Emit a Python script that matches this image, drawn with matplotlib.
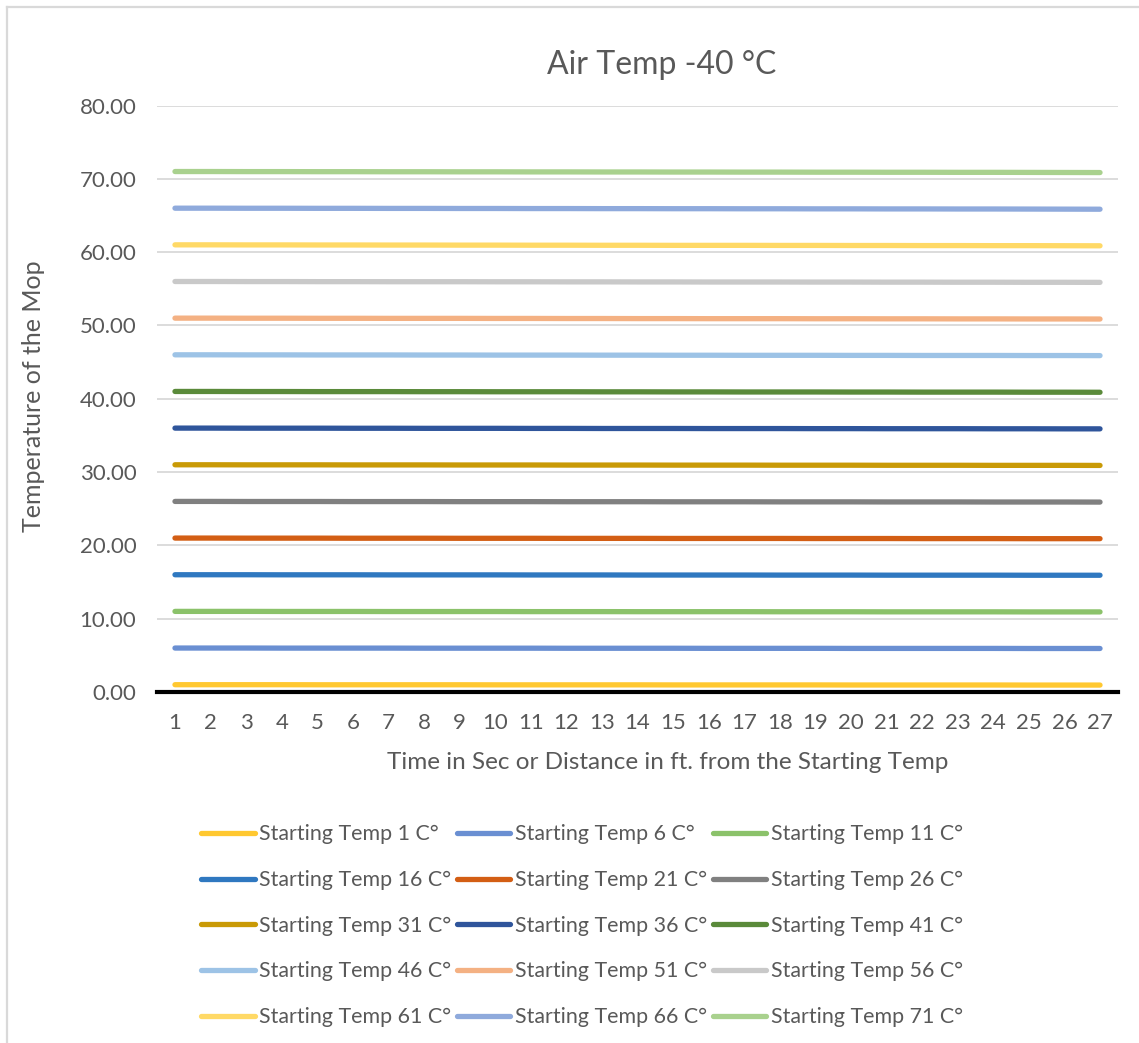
import matplotlib
matplotlib.use('Agg')
from matplotlib import pyplot as plt
from matplotlib.lines import Line2D
from matplotlib.ticker import FormatStrFormatter

plt.rcParams['font.family'] = ['Lato', 'DejaVu Sans']

# seconds / feet from the starting point
steps = list(range(1, 28))

t1 = [1.00, 1.00, 1.00, 1.00, 0.99, 0.99, 0.99, 0.99, 0.99, 0.98, 0.98, 0.98, 0.98, 0.98,
      0.97, 0.97, 0.97, 0.97, 0.97, 0.96, 0.96, 0.96, 0.96, 0.96, 0.95, 0.95, 0.95]
t6 = [6.00, 6.00, 6.00, 5.99, 5.99, 5.99, 5.99, 5.98, 5.98, 5.98, 5.98, 5.97, 5.97, 5.97,
      5.97, 5.96, 5.96, 5.96, 5.96, 5.95, 5.95, 5.95, 5.95, 5.95, 5.94, 5.94, 5.94]
t11 = [11.00, 11.00, 11.00, 10.99, 10.99, 10.99, 10.98, 10.98, 10.98, 10.98, 10.97, 10.97, 10.97, 10.96,
       10.96, 10.96, 10.96, 10.95, 10.95, 10.95, 10.94, 10.94, 10.94, 10.94, 10.93, 10.93, 10.93]
t16 = [16.00, 16.00, 16.00, 15.99, 15.99, 15.99, 15.98, 15.98, 15.98, 15.98, 15.97, 15.97, 15.97, 15.96,
       15.96, 15.96, 15.96, 15.95, 15.95, 15.95, 15.94, 15.94, 15.94, 15.94, 15.93, 15.93, 15.93]
t21 = [21.00, 21.00, 20.99, 20.99, 20.99, 20.98, 20.98, 20.98, 20.97, 20.97, 20.97, 20.96, 20.96, 20.96,
       20.95, 20.95, 20.95, 20.95, 20.94, 20.94, 20.94, 20.93, 20.93, 20.93, 20.92, 20.92, 20.92]
t26 = [26.00, 26.00, 25.99, 25.99, 25.99, 25.98, 25.98, 25.98, 25.97, 25.97, 25.97, 25.96, 25.96, 25.96,
       25.95, 25.95, 25.95, 25.94, 25.94, 25.94, 25.93, 25.93, 25.93, 25.92, 25.92, 25.92, 25.91]
t31 = [31.00, 31.00, 30.99, 30.99, 30.99, 30.98, 30.98, 30.98, 30.97, 30.97, 30.97, 30.96, 30.96, 30.96,
       30.95, 30.95, 30.95, 30.94, 30.94, 30.94, 30.93, 30.93, 30.93, 30.92, 30.92, 30.92, 30.91]
t36 = [36.00, 36.00, 35.99, 35.99, 35.99, 35.98, 35.98, 35.97, 35.97, 35.97, 35.96, 35.96, 35.95, 35.95,
       35.95, 35.94, 35.94, 35.94, 35.93, 35.93, 35.92, 35.92, 35.92, 35.91, 35.91, 35.90, 35.90]
t41 = [41.00, 41.00, 40.99, 40.99, 40.98, 40.98, 40.98, 40.97, 40.97, 40.96, 40.96, 40.96, 40.95, 40.95,
       40.94, 40.94, 40.93, 40.93, 40.93, 40.92, 40.92, 40.91, 40.91, 40.91, 40.90, 40.90, 40.89]
t46 = [46.00, 46.00, 45.99, 45.99, 45.98, 45.98, 45.98, 45.97, 45.97, 45.96, 45.96, 45.96, 45.95, 45.95,
       45.94, 45.94, 45.93, 45.93, 45.93, 45.92, 45.92, 45.91, 45.91, 45.91, 45.90, 45.90, 45.89]
t51 = [51.00, 51.00, 50.99, 50.99, 50.98, 50.98, 50.97, 50.97, 50.97, 50.96, 50.96, 50.95, 50.95, 50.94,
       50.94, 50.93, 50.93, 50.93, 50.92, 50.92, 50.91, 50.91, 50.90, 50.90, 50.89, 50.89, 50.88]
t56 = [56.00, 56.00, 55.99, 55.99, 55.98, 55.98, 55.97, 55.97, 55.97, 55.96, 55.96, 55.95, 55.95, 55.94,
       55.94, 55.93, 55.93, 55.93, 55.92, 55.92, 55.91, 55.91, 55.90, 55.90, 55.89, 55.89, 55.88]
t61 = [61.00, 61.00, 60.99, 60.99, 60.98, 60.98, 60.97, 60.97, 60.96, 60.96, 60.95, 60.95, 60.94, 60.94,
       60.93, 60.93, 60.93, 60.92, 60.92, 60.91, 60.91, 60.90, 60.90, 60.89, 60.89, 60.88, 60.87]
t66 = [66.00, 66.00, 65.99, 65.99, 65.98, 65.98, 65.97, 65.97, 65.96, 65.96, 65.95, 65.95, 65.94, 65.94,
       65.93, 65.93, 65.92, 65.92, 65.91, 65.91, 65.90, 65.90, 65.89, 65.89, 65.88, 65.87, 65.86]
t71 = [71.00, 71.00, 70.99, 70.99, 70.98, 70.98, 70.97, 70.97, 70.96, 70.96, 70.95, 70.95, 70.94, 70.94,
       70.93, 70.93, 70.92, 70.92, 70.91, 70.91, 70.90, 70.90, 70.89, 70.89, 70.88, 70.87, 70.86]

start_temps = [1, 6, 11, 16, 21, 26, 31, 36, 41, 46, 51, 56, 61, 66, 71]
series = [t1, t6, t11, t16, t21, t26, t31, t36, t41, t46, t51, t56, t61, t66, t71]
colors = ['#FFC830', '#6A8FD2', '#8BC26A', '#2F78C0', '#D35E14', '#808080', '#C99A06', '#2F559B',
          '#5A8A3A', '#9DC3E6', '#F4B183', '#C9C9C9', '#FFD966', '#8FAADC', '#A9D18E']

txt = '#595959'

fig = plt.figure(figsize=(11.39, 10.43), dpi=100)
ax = fig.add_axes([0.138, 0.3365, 0.8434, 0.5623])

handles = []
for st, vals, c in zip(start_temps, series, colors):
    h, = ax.plot(steps, vals, color=c, lw=3.8, solid_capstyle='round',
                 label='Starting Temp %d C\u00b0' % st)
    handles.append(h)

ax.set_xlim(0.5, 27.5)
ax.set_ylim(0, 80)
ax.set_xticks(steps)
ax.set_yticks(range(0, 81, 10))
ax.yaxis.set_major_formatter(FormatStrFormatter('%.2f'))
ax.grid(axis='y', color='#D9D9D9', lw=1.3)
ax.set_axisbelow(True)
for side in ['top', 'right', 'left']:
    ax.spines[side].set_visible(False)
ax.spines['bottom'].set_color('black')
ax.spines['bottom'].set_linewidth(3)
ax.spines['bottom'].set_zorder(5)
ax.tick_params(length=0, labelsize=16, labelcolor=txt)
ax.tick_params(axis='x', pad=15)
ax.tick_params(axis='y', pad=15)

ax.set_title('Air Temp -40 \u00b0C', fontsize=23, color=txt, pad=23, x=0.525)
ax.set_xlabel('Time in Sec or Distance in ft. from the Starting Temp', fontsize=17.5, color=txt, va='center')
ax.set_ylabel('Temperature of the Mop', fontsize=18, color=txt, va='center')
ax.xaxis.set_label_coords(0.531, -0.121)
ax.yaxis.set_label_coords(-0.129, 0.504)

# legend reads row by row, three entries per row
order = [i for col in range(3) for i in range(col, 15, 3)]
fig.legend([handles[i] for i in order], [handles[i].get_label() for i in order],
           ncol=3, loc='upper center', bbox_to_anchor=(0.511, 0.228), frameon=False,
           fontsize=15.4, labelcolor=txt, handlelength=2.5, handletextpad=0.22,
           columnspacing=0.25, labelspacing=1.2)

# chart area border
fig.add_artist(Line2D([0.0058, 0.0058], [0, 0.9935], color='#D9D9D9', lw=1.6))
fig.add_artist(Line2D([0.0058, 1.0], [0.9935, 0.9935], color='#D9D9D9', lw=1.6))

fig.savefig('out.png', dpi=100)
